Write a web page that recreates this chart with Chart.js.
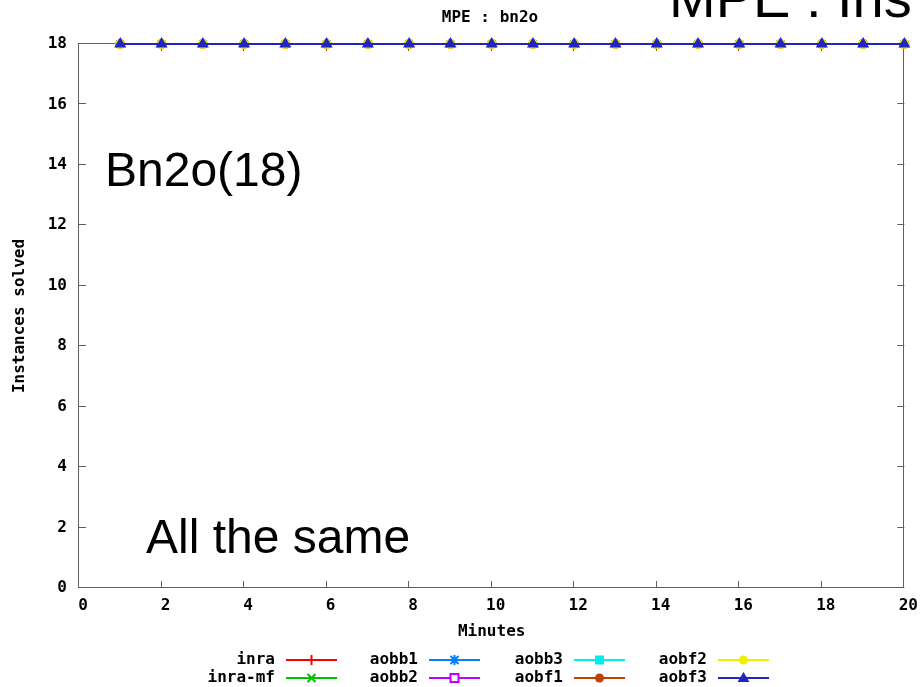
<!DOCTYPE html>
<html>
<head>
<meta charset="utf-8">
<title>MPE : bn2o</title>
<script src="https://cdn.jsdelivr.net/npm/chart.js@4/dist/chart.umd.min.js"></script>
<style>
  html, body { margin: 0; padding: 0; background: #fff; }
  canvas { display: block; }
</style>
</head>
<body>
<canvas id="mpeChart" width="922" height="687"></canvas>
<script>
// Instances solved per minute, bn2o set (18 instances)
const minutes = [1, 2, 3, 4, 5, 6, 7, 8, 9, 10, 11, 12, 13, 14, 15, 16, 17, 18, 19, 20];
const inra   = [18, 18, 18, 18, 18, 18, 18, 18, 18, 18, 18, 18, 18, 18, 18, 18, 18, 18, 18, 18];
const inraMf = [18, 18, 18, 18, 18, 18, 18, 18, 18, 18, 18, 18, 18, 18, 18, 18, 18, 18, 18, 18];
const aobb1  = [18, 18, 18, 18, 18, 18, 18, 18, 18, 18, 18, 18, 18, 18, 18, 18, 18, 18, 18, 18];
const aobb2  = [18, 18, 18, 18, 18, 18, 18, 18, 18, 18, 18, 18, 18, 18, 18, 18, 18, 18, 18, 18];
const aobb3  = [18, 18, 18, 18, 18, 18, 18, 18, 18, 18, 18, 18, 18, 18, 18, 18, 18, 18, 18, 18];
const aobf1  = [18, 18, 18, 18, 18, 18, 18, 18, 18, 18, 18, 18, 18, 18, 18, 18, 18, 18, 18, 18];
const aobf2  = [18, 18, 18, 18, 18, 18, 18, 18, 18, 18, 18, 18, 18, 18, 18, 18, 18, 18, 18, 18];
const aobf3  = [18, 18, 18, 18, 18, 18, 18, 18, 18, 18, 18, 18, 18, 18, 18, 18, 18, 18, 18, 18];

const xTicks = [0, 2, 4, 6, 8, 10, 12, 14, 16, 18, 20];
const yTicks = [0, 2, 4, 6, 8, 10, 12, 14, 16, 18];

const seriesNames = ["inra", "inra-mf", "aobb1", "aobb2", "aobb3", "aobf1", "aobf2", "aobf3"];
const seriesValues = [inra, inraMf, aobb1, aobb2, aobb3, aobf1, aobf2, aobf3];
const seriesColors = ["#ff0000", "#00c000", "#0080ff", "#c000ff", "#00eeee", "#c04000", "#eeee00", "#2424c0"];
const seriesMarkers = ["cross", "crossRot", "star", "rect", "rect", "circle", "circle", "triangle"];

const monoFont = "'DejaVu Sans Mono', 'Liberation Mono', monospace";
const boxColor = "#606060";

const datasets = seriesNames.map((name, i) => ({
  label: name,
  data: minutes.map((m, j) => ({ x: m, y: seriesValues[i][j] })),
  borderColor: seriesColors[i],
  backgroundColor: seriesColors[i],
  pointStyle: seriesMarkers[i],
  pointBackgroundColor: name === "aobb2" ? "#ffffff" : seriesColors[i],
  pointBorderColor: seriesColors[i],
  pointRadius: seriesMarkers[i] === "triangle" ? 5 : 4,
  pointBorderWidth: 2,
  borderWidth: 2,
  tension: 0,
  clip: false,
  // last series ends up on top
  order: seriesNames.length - i,
}));

// small marker shapes for the legend keys
function drawMarker(c, style, x, y, color, hollow) {
  c.save();
  c.strokeStyle = color;
  c.fillStyle = color;
  c.lineWidth = 2;
  c.beginPath();
  if (style === "cross") {
    c.moveTo(x, y - 5); c.lineTo(x, y + 5);
    c.stroke();
  } else if (style === "crossRot") {
    c.moveTo(x - 4, y - 4); c.lineTo(x + 4, y + 4);
    c.moveTo(x + 4, y - 4); c.lineTo(x - 4, y + 4);
    c.stroke();
  } else if (style === "star") {
    c.moveTo(x - 4, y - 4); c.lineTo(x + 4, y + 4);
    c.moveTo(x + 4, y - 4); c.lineTo(x - 4, y + 4);
    c.moveTo(x, y - 5); c.lineTo(x, y + 5);
    c.stroke();
  } else if (style === "rect") {
    if (hollow) {
      c.fillStyle = "#fff";
      c.fillRect(x - 4, y - 4, 8, 8);
      c.strokeRect(x - 4, y - 4, 8, 8);
    } else {
      c.fillRect(x - 4.5, y - 4.5, 9, 9);
    }
  } else if (style === "circle") {
    c.arc(x, y, 4.5, 0, Math.PI * 2);
    c.fill();
  } else if (style === "triangle") {
    c.moveTo(x, y - 6); c.lineTo(x + 6, y + 4); c.lineTo(x - 6, y + 4);
    c.closePath();
    c.fill();
  }
  c.restore();
}

const framePlugin = {
  id: "frame",
  beforeDatasetsDraw(chart) {
    const c = chart.ctx;
    const { left, right, top, bottom } = chart.chartArea;
    const xs = chart.scales.x;
    const ys = chart.scales.y;
    c.save();
    c.strokeStyle = boxColor;
    c.lineWidth = 1;
    c.strokeRect(Math.round(left) - 0.5, Math.round(top) - 0.5, Math.round(right - left), Math.round(bottom - top));
    // inward ticks, mirrored on the opposite side
    c.beginPath();
    xTicks.forEach((v) => {
      const px = Math.round(xs.getPixelForValue(v)) - 0.5;
      c.moveTo(px, bottom); c.lineTo(px, bottom - 7);
      c.moveTo(px, top); c.lineTo(px, top + 7);
    });
    yTicks.forEach((v) => {
      const py = Math.round(ys.getPixelForValue(v)) - 0.5;
      c.moveTo(left, py); c.lineTo(left + 7, py);
      c.moveTo(right, py); c.lineTo(right - 7, py);
    });
    c.stroke();
    c.restore();
  },
  afterDraw(chart) {
    const c = chart.ctx;
    c.save();
    c.fillStyle = "#000";

    // plot title
    c.font = "bold 16px " + monoFont;
    c.textAlign = "center";
    c.textBaseline = "middle";
    c.fillText("MPE : bn2o", 490, 18);

    // key: label right-aligned, then a line sample with its marker
    const colRight = [275, 418, 563, 707];
    const rowY = [660, 678];
    c.textAlign = "right";
    chart.data.datasets.forEach((ds, i) => {
      const col = Math.floor(i / 2);
      const y = rowY[i % 2];
      const xr = colRight[col];
      c.fillStyle = "#000";
      c.fillText(ds.label, xr, y);
      const x0 = xr + 11, x1 = x0 + 51;
      c.strokeStyle = ds.borderColor;
      c.lineWidth = 2;
      c.beginPath();
      c.moveTo(x0, y); c.lineTo(x1, y);
      c.stroke();
      drawMarker(c, ds.pointStyle, (x0 + x1) / 2, y, ds.borderColor, ds.label === "aobb2");
    });

    // slide annotations
    c.textAlign = "left";
    c.textBaseline = "alphabetic";
    c.fillStyle = "#000";
    c.font = "56px 'Liberation Sans', Arial, sans-serif";
    c.fillText("MPE : Ins", 669, 17);
    c.font = "48px 'Liberation Sans', Arial, sans-serif";
    c.fillText("Bn2o(18)", 105, 186);
    c.font = "48px 'Liberation Sans', Arial, sans-serif";
    c.fillText("All the same", 146, 553);
    c.restore();
  },
};

const tickFont = { family: monoFont, size: 16, weight: "bold" };

new Chart(document.getElementById("mpeChart"), {
  type: "line",
  data: { datasets },
  options: {
    responsive: false,
    animation: false,
    layout: { padding: { left: 0, top: 44, right: 17, bottom: 0 } },
    plugins: {
      legend: { display: false },
      tooltip: { enabled: false },
      title: { display: false },
    },
    scales: {
      x: {
        type: "linear",
        min: 0,
        max: 20,
        afterBuildTicks: (scale) => { scale.ticks = xTicks.map((v) => ({ value: v })); },
        afterFit: (scale) => { scale.height = 99; },
        ticks: { color: "#000", padding: 8, labelOffset: 4, maxRotation: 0, font: tickFont },
        grid: { display: false, drawTicks: false },
        border: { display: false },
        title: {
          display: true,
          text: "Minutes",
          color: "#000",
          font: tickFont,
          padding: { top: 0, bottom: 46 },
        },
      },
      y: {
        type: "linear",
        min: 0,
        max: 18,
        afterBuildTicks: (scale) => { scale.ticks = yTicks.map((v) => ({ value: v })); },
        afterFit: (scale) => { scale.width = 79; },
        ticks: { color: "#000", padding: 12, font: tickFont },
        grid: { display: false, drawTicks: false },
        border: { display: false },
        title: {
          display: true,
          text: "Instances solved",
          color: "#000",
          font: tickFont,
          padding: { top: 10, bottom: 0 },
        },
      },
    },
  },
  plugins: [framePlugin],
});
</script>
</body>
</html>
